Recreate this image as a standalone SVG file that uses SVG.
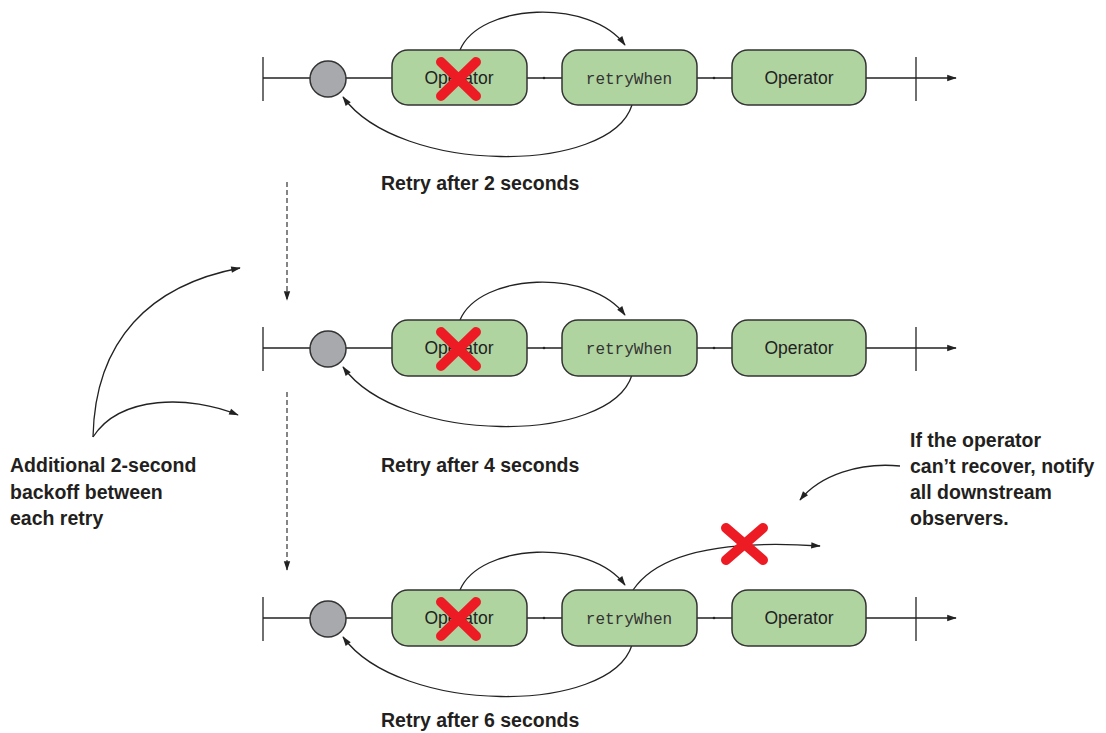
<svg xmlns="http://www.w3.org/2000/svg" width="1106" height="733" viewBox="0 0 1106 733">
<style>
.box{fill:#b0d4a0;stroke:#333;stroke-width:1.5}
.ball{fill:#a7a9ac;stroke:#333;stroke-width:1.5}
.ln{fill:none;stroke:#222;stroke-width:1.3}
.op{font-family:"Liberation Sans",Arial,sans-serif;font-size:17.5px;fill:#222;text-anchor:middle}
.rw{font-family:"Liberation Mono","Courier New",monospace;font-size:16px;fill:#333;text-anchor:middle}
.lbl{font-family:"Liberation Sans",Arial,sans-serif;font-weight:bold;font-size:19.5px;fill:#231f20}
.x{stroke:#ed1c24;stroke-width:10;stroke-linecap:round;fill:none}
.dash{fill:none;stroke:#444;stroke-width:1.3;stroke-dasharray:5,3}
</style>
<defs>
<marker id="ah" viewBox="0 0 12 10" refX="11" refY="5" markerWidth="11" markerHeight="8" markerUnits="userSpaceOnUse" orient="auto">
<path d="M0,1 L12,5 L0,9 Z" fill="#222"/>
</marker>
<g id="rowTpl">
<line class="ln" x1="263" y1="78" x2="956" y2="78" marker-end="url(#ah)"/>
<line class="ln" x1="263" y1="57" x2="263" y2="101"/>
<line class="ln" x1="916" y1="57" x2="916" y2="101"/>
<circle cx="544" cy="78" r="1.3" fill="#222"/>
<circle cx="714" cy="78" r="1.3" fill="#222"/>
</g>
</defs>

<g id="connectors">
<use href="#rowTpl"/>
<use href="#rowTpl" y="270"/>
<use href="#rowTpl" y="540"/>
<path class="ln" d="M460,50 C480,3 590,-2 625,45" marker-end="url(#ah)"/>
<path class="ln" d="M632,105 C610,175 400,175 343,97" marker-end="url(#ah)"/>
<path class="ln" d="M460,320 C480,273 590,268 625,315" marker-end="url(#ah)"/>
<path class="ln" d="M632,375 C610,445 400,445 343,367" marker-end="url(#ah)"/>
<path class="ln" d="M460,590 C480,543 590,538 625,585" marker-end="url(#ah)"/>
<path class="ln" d="M632,645 C610,715 400,715 343,637" marker-end="url(#ah)"/>
<path class="ln" d="M633,590 C660,550 730,540 820,546" marker-end="url(#ah)"/>
<path class="dash" d="M287,182 L287,300" marker-end="url(#ah)"/>
<path class="dash" d="M287,392 L287,570" marker-end="url(#ah)"/>
<path class="ln" d="M93,437 C95,340 150,285 240,268" marker-end="url(#ah)"/>
<path class="ln" d="M93,437 C120,395 190,395 238,415" marker-end="url(#ah)"/>
<path class="ln" d="M900,466 C860,462 820,475 800,500" marker-end="url(#ah)"/>
</g>

<g id="row1">
<g id="source1"><circle class="ball" cx="328" cy="79" r="18"/></g>
<g id="op1a"><rect class="box" x="392" y="50" width="135" height="55" rx="16"/><text class="op" x="459" y="84">Operator</text><path class="x" d="M441,62 L476,96 M476,62 L441,96"/></g>
<g id="retry1"><rect class="box" x="562" y="50" width="135" height="55" rx="16"/><text class="rw" x="629" y="84">retryWhen</text></g>
<g id="op1b"><rect class="box" x="732" y="50" width="134" height="55" rx="16"/><text class="op" x="799" y="84">Operator</text></g>
</g>

<g id="row2">
<g id="source2"><circle class="ball" cx="328" cy="349" r="18"/></g>
<g id="op2a"><rect class="box" x="392" y="320" width="135" height="56" rx="16"/><text class="op" x="459" y="354">Operator</text><path class="x" d="M441,332 L476,366 M476,332 L441,366"/></g>
<g id="retry2"><rect class="box" x="562" y="320" width="135" height="56" rx="16"/><text class="rw" x="629" y="354">retryWhen</text></g>
<g id="op2b"><rect class="box" x="732" y="320" width="134" height="56" rx="16"/><text class="op" x="799" y="354">Operator</text></g>
</g>

<g id="row3">
<g id="source3"><circle class="ball" cx="328" cy="619" r="18"/></g>
<g id="op3a"><rect class="box" x="392" y="590" width="135" height="56" rx="16"/><text class="op" x="459" y="624">Operator</text><path class="x" d="M441,602 L476,636 M476,602 L441,636"/></g>
<g id="retry3"><rect class="box" x="562" y="590" width="135" height="56" rx="16"/><text class="rw" x="629" y="624">retryWhen</text></g>
<g id="op3b"><rect class="box" x="732" y="590" width="134" height="56" rx="16"/><text class="op" x="799" y="624">Operator</text></g>
<g id="fail"><path class="x" d="M726,528 L763,560 M763,528 L726,560"/></g>
</g>

<g id="labels">
<text class="lbl" x="381" y="190">Retry after 2 seconds</text>
<text class="lbl" x="381" y="472">Retry after 4 seconds</text>
<text class="lbl" x="381" y="727">Retry after 6 seconds</text>
<text class="lbl" x="10" y="472">Additional 2-second</text>
<text class="lbl" x="10" y="499">backoff between</text>
<text class="lbl" x="10" y="525">each retry</text>
<text class="lbl" x="910" y="447">If the operator</text>
<text class="lbl" x="910" y="473">can’t recover, notify</text>
<text class="lbl" x="910" y="499">all downstream</text>
<text class="lbl" x="910" y="525">observers.</text>
</g>
</svg>
